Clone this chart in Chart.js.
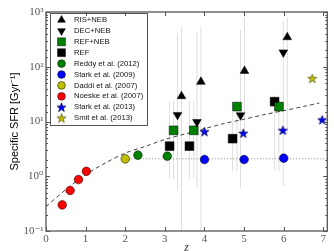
<!DOCTYPE html>
<html>
<head>
<meta charset="utf-8">
<script src="https://cdn.jsdelivr.net/npm/chart.js@4.4.0/dist/chart.umd.min.js"></script>
<style>
html, body { margin: 0; padding: 0; background: #fff; }
</style>
</head>
<body>
<canvas id="chart" width="334" height="251"></canvas>
<script>
// values (z, sSFR in Gyr^-1)
const risZ = [3.42, 3.91, 5.01, 6.09]
const risY = [29, 53, 84, 346]
const risLo = [0.05, 0.05, 6, 5.8]
const risHi = [530, 530, 800, 800]

const decZ = [3.32, 3.81, 4.91, 5.99]
const decY = [13.2, 9.8, 13, 183]
const decLo = [0.57, 0.62, 0.61, 0.66]
const decHi = [410, 410, 470, 700]

const refNebZ = [3.22, 3.73, 4.82, 5.88]
const refNebY = [6.9, 6.9, 18.7, 18.7]
const refNebLo = [0.91, 0.91, 1.23, 1.23]
const refNebHi = [23.8, 23.8, 24, 24]

const refZ = [3.12, 3.62, 4.71, 5.77]
const refY = [3.55, 3.55, 4.85, 23]
const refLo = [0.91, 0.91, 1.23, 1.23]
const refHi = [23.8, 23.8, 15, 30]

const reddyZ = [2.32, 3.06]
const reddyY = [2.43, 2.33]
const stark09Z = [4.0, 5.0, 6.0]
const stark09Y = [2.02, 2.02, 2.14]
const daddiZ = [2.0]
const daddiY = [2.08]
const noeskeZ = [0.41, 0.61, 0.82, 1.02]
const noeskeY = [0.30, 0.55, 0.87, 1.23]
const stark13Z = [4.0, 4.98, 5.98, 6.97]
const stark13Y = [6.5, 6.1, 6.9, 10.7]
const smitZ = [6.72]
const smitY = [61]

const fitZ = [0, 0.5, 1, 1.5, 2, 2.5, 3, 3.5, 4, 4.5, 5, 5.5, 6, 6.5, 6.9]
const fitY = [0.28, 0.57, 1.07, 1.75, 2.65, 3.5, 4.7, 5.9, 7.4, 9.2, 11, 13.3, 15.8, 18.8, 21.8]

const plateauZ = [2.0, 7.1]
const plateauY = [2.08, 2.08]

const xTicks = [0, 1, 2, 3, 4, 5, 6, 7]
const supers = {'3': '³', '2': '²', '1': '¹', '0': '⁰', '-1': '⁻¹'}

const pts = (zs, ys) => zs.map((z, i) => ({x: z, y: ys[i]}))

function errorBars(){
    const out = []
    const add = (zs, lo, hi) => zs.forEach((z, i) => {
        out.push({x: z, y: lo[i]}, {x: z, y: hi[i]}, {x: z, y: NaN})
    })
    add(risZ, risLo, risHi)
    add(decZ, decLo, decHi)
    add(refNebZ, refNebLo, refNebHi)
    add(refZ, refLo, refHi)
    return out
}

function starSprite(fill, edge){
    const c = document.createElement('canvas')
    c.width = 11
    c.height = 11
    const g = c.getContext('2d')
    g.beginPath()
    for(let i = 0; i < 10; i++){
        const r = i % 2 ? 1.9 : 4.8
        const a = -Math.PI / 2 + i * Math.PI / 5
        g.lineTo(5.5 + r * Math.cos(a), 5.8 + r * Math.sin(a))
    }
    g.closePath()
    g.fillStyle = fill
    g.fill()
    g.strokeStyle = edge
    g.lineWidth = 0.7
    g.stroke()
    return c
}

const blueStar = starSprite('#0000ff', '#000055')
const yellowStar = starSprite('#bfbf00', '#55550a')

function marker(label, zs, ys, style, radius, color, rotation = 0){
    return {
        label,
        data: pts(zs, ys),
        pointStyle: style,
        pointRadius: radius,
        pointRotation: rotation,
        rotation,
        backgroundColor: color,
        borderColor: '#000',
        borderWidth: 0.5
    }
}

const legendBox = {
    id: 'legendBox',
    afterDatasetsDraw(chart){
        const {ctx, chartArea} = chart
        const left = chartArea.left + 4.5
        const top = chartArea.top + 1.5
        ctx.save()
        ctx.fillStyle = '#fff'
        ctx.strokeStyle = '#555'
        ctx.lineWidth = 1
        ctx.fillRect(left, top, 97, 112)
        ctx.strokeRect(left, top, 97, 112)
        let y = top + 6.5
        chart.data.datasets.forEach(ds => {
            if(!ds.label) return
            ctx.fillStyle = ds.backgroundColor
            ctx.strokeStyle = ds.borderColor
            ctx.lineWidth = ds.borderWidth
            Chart.helpers.drawPoint(ctx, {
                pointStyle: ds.pointStyle,
                rotation: ds.rotation,
                radius: ds.pointRadius * 0.9,
                borderWidth: ds.borderWidth
            }, left + 11, y)
            ctx.fillStyle = '#111'
            ctx.font = '7.7px "Liberation Sans", Arial, sans-serif'
            ctx.textBaseline = 'middle'
            ctx.textAlign = 'left'
            ctx.fillText(ds.label, left + 23.5, y)
            y += 10.9
        })
        ctx.restore()
    }
}

const axisFrame = {
    id: 'axisFrame',
    afterDraw(chart){
        const {ctx, chartArea: a, scales: {x, y}} = chart
        ctx.save()
        ctx.strokeStyle = '#555'
        ctx.lineWidth = 1
        ctx.beginPath()
        x.ticks.forEach(t => {
            if(!Number.isInteger(t.value)) return
            const px = Math.round(x.getPixelForValue(t.value)) + 0.5
            ctx.moveTo(px, a.bottom)
            ctx.lineTo(px, a.bottom - 4)
            ctx.moveTo(px, a.top)
            ctx.lineTo(px, a.top + 4)
        })
        y.ticks.forEach(t => {
            const l = Math.log10(t.value)
            const len = Math.abs(l - Math.round(l)) < 1e-6 ? 4 : 2
            const py = Math.round(y.getPixelForValue(t.value)) + 0.5
            ctx.moveTo(a.left, py)
            ctx.lineTo(a.left + len, py)
            ctx.moveTo(a.right, py)
            ctx.lineTo(a.right - len, py)
        })
        ctx.stroke()
        ctx.lineWidth = 1.3
        ctx.strokeRect(a.left, a.top, a.right - a.left, a.bottom - a.top)
        ctx.restore()
    }
}

let chart = new Chart(document.querySelector('#chart'), {
    type: 'scatter',
    data: {
        datasets: [
            marker('RIS+NEB', risZ, risY, 'triangle', 5, '#000'),
            marker('DEC+NEB', decZ, decY, 'triangle', 5, '#000', 180),
            marker('REF+NEB', refNebZ, refNebY, 'rect', 6.2, '#008000'),
            marker('REF', refZ, refY, 'rect', 6.2, '#000'),
            marker('Reddy et al. (2012)', reddyZ, reddyY, 'circle', 4.3, '#008000'),
            marker('Stark et al. (2009)', stark09Z, stark09Y, 'circle', 4.3, '#0000ff'),
            marker('Daddi et al. (2007)', daddiZ, daddiY, 'circle', 4.3, '#bfbf00'),
            marker('Noeske et al. (2007)', noeskeZ, noeskeY, 'circle', 4.3, '#ff0000'),
            marker('Stark et al. (2013)', stark13Z, stark13Y, blueStar, 4.5, '#0000ff'),
            marker('Smit et al. (2013)', smitZ, smitY, yellowStar, 4.5, '#bfbf00'),
            {
                label: '',
                data: pts(fitZ, fitY),
                showLine: true,
                pointRadius: 0,
                borderColor: '#444',
                borderWidth: 1,
                borderDash: [4, 3],
                tension: 0.3
            },
            {
                label: '',
                data: pts(plateauZ, plateauY),
                showLine: true,
                pointRadius: 0,
                borderColor: '#888',
                borderWidth: 1,
                borderDash: [1, 2]
            },
            {
                label: '',
                data: errorBars(),
                showLine: true,
                spanGaps: false,
                pointRadius: 0,
                borderColor: '#dedede',
                borderWidth: 1
            }
        ]
    },
    options: {
        responsive: false,
        animation: false,
        layout: {padding: {top: 12, right: 1, left: 0, bottom: 0}},
        plugins: {
            legend: {display: false},
            tooltip: {enabled: false}
        },
        scales: {
            x: {
                type: 'linear',
                min: 0,
                max: 7.1,
                afterFit: s => { s.height = 20 },
                afterBuildTicks: s => { s.ticks = xTicks.map(v => ({value: v})) },
                grid: {display: false, drawTicks: false},
                border: {display: false},
                ticks: {
                    padding: 2,
                    color: '#555',
                    font: {family: '"Liberation Serif", "DejaVu Serif", serif', size: 11},
                    callback: v => String(v)
                },
                title: {
                    display: true,
                    text: 'z',
                    color: '#333',
                    padding: {top: 0, bottom: -4},
                    font: {family: '"Liberation Serif", "DejaVu Serif", serif', size: 12, style: 'italic'}
                }
            },
            y: {
                type: 'logarithmic',
                min: 0.1,
                max: 1000,
                afterFit: s => { s.width = 46 },
                grid: {display: false, drawTicks: false},
                border: {display: false},
                ticks: {
                    autoSkip: false,
                    padding: 2.5,
                    color: '#555',
                    font: {family: '"Liberation Serif", "DejaVu Serif", serif', size: 11},
                    callback: v => {
                        const l = Math.round(Math.log10(v))
                        if(Math.abs(Math.log10(v) - l) > 1e-6) return ''
                        return '10' + supers[String(l)]
                    }
                },
                title: {
                    display: true,
                    text: 'Specific SFR [Gyr⁻¹]',
                    color: '#000',
                    padding: {top: 8.4, bottom: 0},
                    font: {family: '"Liberation Sans", Arial, sans-serif', size: 11}
                }
            }
        }
    },
    plugins: [legendBox, axisFrame]
})
</script>
</body>
</html>
